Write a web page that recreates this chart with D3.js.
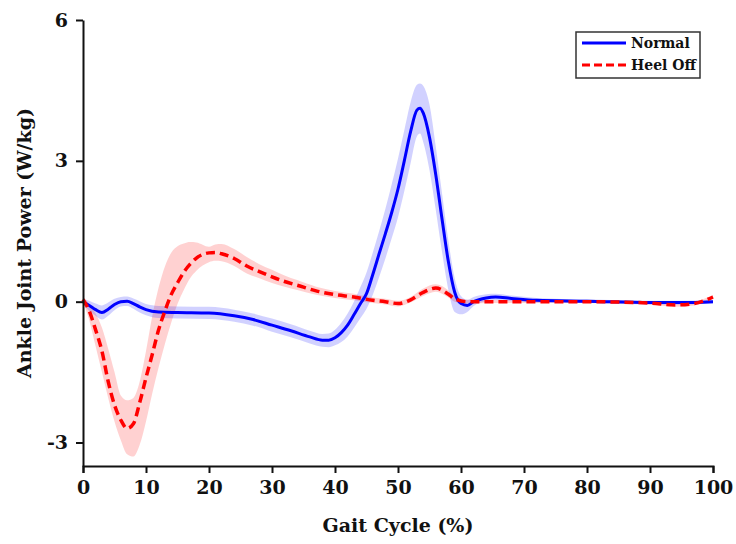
<!DOCTYPE html>
<html>
<head>
<meta charset="utf-8">
<script src="https://cdn.jsdelivr.net/npm/d3@7"></script>
<style>
  body { margin: 0; background: #fff; }
  text { font-family: "DejaVu Serif", serif; font-weight: bold; fill: #111; }
</style>
</head>
<body>
<svg id="chart" width="736" height="544"></svg>
<script>
// --- Data ---
const xTicks = [0, 10, 20, 30, 40, 50, 60, 70, 80, 90, 100];
const yTicks = [-3, 0, 3, 6];
const seriesNames = ["Normal", "Heel Off"];

// Normal
const tNormal     = [0,    1,     2,     3,     4,     5,     6,    7,    8,     9,     10,    12,    15,    20,    24,    27,    30,    33,    36,    38,    39,    40,    41,    42,    43,    44,    45,    46,   47,   48,   49,   50,   51,   52,   53,   53.5, 54,   55,   56,   57,   58,   59,    60,    61,    62,    64,   65.5, 68,   72,    80,    90,    95,    100];
const normalMean  = [0,    -0.08, -0.17, -0.23, -0.16, -0.06, 0,    0.01, -0.04, -0.11, -0.17, -0.22, -0.23, -0.24, -0.3,  -0.38, -0.5,  -0.62, -0.75, -0.82, -0.82, -0.77, -0.66, -0.5,  -0.28, -0.05, 0.17,  0.58, 1.02, 1.45, 1.9,  2.4,  3.0,  3.62, 4.08, 4.12, 4.02, 3.5,  2.7,  1.75, 0.85, 0.2,   -0.04, -0.08, 0,     0.08, 0.1,  0.07, 0.03,  0.01,  -0.02, -0.02, 0];
const normalUpper = [0.05, 0.02,  -0.04, -0.08, -0.02, 0.06,  0.1,  0.11, 0.07,  0.01,  -0.05, -0.09, -0.1,  -0.11, -0.17, -0.25, -0.36, -0.48, -0.62, -0.69, -0.68, -0.6,  -0.45, -0.25, 0,     0.3,   0.62,  1.05, 1.5,  1.98, 2.5,  3.05, 3.65, 4.25, 4.62, 4.65, 4.6,  4.2,  3.3,  2.3,  1.3,  0.5,   0.12,  0.04,  0.1,   0.16, 0.17, 0.13, 0.08,  0.05,  0.02,  0.02,  0.04];
const normalLower = [-0.05,-0.2,  -0.3,  -0.38, -0.3,  -0.18, -0.1, -0.09,-0.15, -0.23, -0.29, -0.35, -0.36, -0.37, -0.43, -0.51, -0.64, -0.76, -0.89, -0.96, -0.97, -0.93, -0.86, -0.74, -0.56, -0.36, -0.15, 0.15, 0.52, 0.92, 1.35, 1.8,  2.35, 2.95, 3.52, 3.58, 3.4,  2.8,  1.95, 1.05, 0.25, -0.22, -0.27, -0.22, -0.09, 0.01, 0.03, 0.01, -0.02, -0.03, -0.06, -0.06, -0.04];

// Heel Off
const tHeel      = [0,    1,     2,     3,     4,     5,     6,     7,     8,     9,     10,    11,    12,    13,    14,    15,    16,   17,   18,   20,   21,   22,   24,   26,   28,   30,   32,   34,   37,   40,   43,   46,    48,    50,    52,    54,   56,   58,   59,   61,    65,    70,    80,    90,    94,    97,    100];
const heelMean   = [0.05, -0.2,  -0.6,  -1.05, -1.7,  -2.2,  -2.52, -2.7,  -2.6,  -2.15, -1.62, -1.12, -0.6,  -0.2,  0.15,  0.4,   0.63, 0.8,  0.93, 1.04, 1.05, 1.02, 0.92, 0.76, 0.64, 0.53, 0.43, 0.35, 0.23, 0.15, 0.1,  0.03,  0,     -0.04, 0.04,  0.2,  0.29, 0.16, 0.06, 0,     0,     0,     0,     -0.03, -0.07, -0.04, 0.1];
const heelUpper  = [0.1,  -0.05, -0.25, -0.55, -1.0,  -1.5,  -2.0,  -2.1,  -2.05, -1.7,  -1.05, -0.3,  0.3,   0.75,  1.04,  1.18,  1.24, 1.27, 1.26, 1.17, 1.22, 1.23, 1.12, 0.95, 0.8,  0.68, 0.56, 0.46, 0.32, 0.23, 0.17, 0.09,  0.06,  0.02,  0.1,   0.28, 0.37, 0.24, 0.12, 0.04,  0.03,  0.03,  0.03,  0,     -0.03, 0,     0.14];
const heelLower  = [0,    -0.4,  -0.95, -1.5,  -2.05, -2.55, -2.95, -3.25, -3.3,  -3.05, -2.55, -1.95, -1.4,  -0.9,  -0.45, -0.05, 0.25, 0.5,  0.66, 0.84, 0.87, 0.86, 0.76, 0.6,  0.5,  0.4,  0.32, 0.25, 0.15, 0.08, 0.03, -0.03, -0.06, -0.1,  -0.02, 0.12, 0.21, 0.09, 0,    -0.04, -0.03, -0.03, -0.03, -0.06, -0.11, -0.08, 0.06];

// --- Layout ---
const svg = d3.select("#chart");
const x = d3.scaleLinear().domain([0, 100]).range([83, 713]);
const y = d3.scaleLinear().domain([-3.5, 6]).range([466, 20]);

const rows = (t, m, u, l) => t.map((d, i) => ({ t: d, m: m[i], u: u[i], l: l[i] }));
const normal = rows(tNormal, normalMean, normalUpper, normalLower);
const heel = rows(tHeel, heelMean, heelUpper, heelLower);

const band = d3.area()
  .x(d => x(d.t)).y0(d => y(d.l)).y1(d => y(d.u))
  .curve(d3.curveMonotoneX);
const line = d3.line()
  .x(d => x(d.t)).y(d => y(d.m))
  .curve(d3.curveMonotoneX);

// bands
svg.append("path").datum(heel).attr("d", band)
  .attr("fill", "rgb(255,0,0)").attr("fill-opacity", 0.18);
svg.append("path").datum(normal).attr("d", band)
  .attr("fill", "rgb(0,0,255)").attr("fill-opacity", 0.18);

// lines
svg.append("path").datum(normal).attr("d", line)
  .attr("fill", "none").attr("stroke", "#0000ff").attr("stroke-width", 3);
svg.append("path").datum(heel).attr("d", line)
  .attr("fill", "none").attr("stroke", "#ff0000").attr("stroke-width", 3.5)
  .attr("stroke-dasharray", "9,5");

// --- Axes ---
const xAxis = svg.append("g").attr("transform", "translate(0,466)")
  .call(d3.axisBottom(x).tickValues(xTicks).tickSize(7).tickSizeOuter(7).tickPadding(8));
const yAxis = svg.append("g").attr("transform", "translate(83,0)")
  .call(d3.axisLeft(y).tickValues(yTicks).tickSize(7).tickSizeOuter(0).tickPadding(8)
    .tickFormat(d => String(d)));

[xAxis, yAxis].forEach(g => {
  g.selectAll("path, line").attr("stroke", "#111").attr("stroke-width", 2);
  g.selectAll("text").attr("font-size", 19).attr("fill", "#111")
    .style("font-family", '"DejaVu Serif", serif').style("font-weight", "bold");
});

svg.append("text").attr("x", 398).attr("y", 532)
  .attr("text-anchor", "middle").attr("font-size", 19).text("Gait Cycle (%)");
svg.append("text").attr("transform", "translate(31,243) rotate(-90)")
  .attr("text-anchor", "middle").attr("font-size", 19).text("Ankle Joint Power (W/kg)");

// --- Legend ---
const leg = svg.append("g");
leg.append("rect").attr("x", 576).attr("y", 32).attr("width", 124).attr("height", 46)
  .attr("fill", "#fff").attr("stroke", "#333").attr("stroke-width", 1.5);
const legStyles = [
  { color: "#0000ff", dash: null },
  { color: "#ff0000", dash: "8,4" }
];
seriesNames.forEach((name, i) => {
  const yy = 43 + i * 22;
  leg.append("line").attr("x1", 582).attr("x2", 626).attr("y1", yy).attr("y2", yy)
    .attr("stroke", legStyles[i].color).attr("stroke-width", 3)
    .attr("stroke-dasharray", legStyles[i].dash);
  leg.append("text").attr("x", 631).attr("y", yy + 5).attr("font-size", 14).text(name);
});
</script>
</body>
</html>
